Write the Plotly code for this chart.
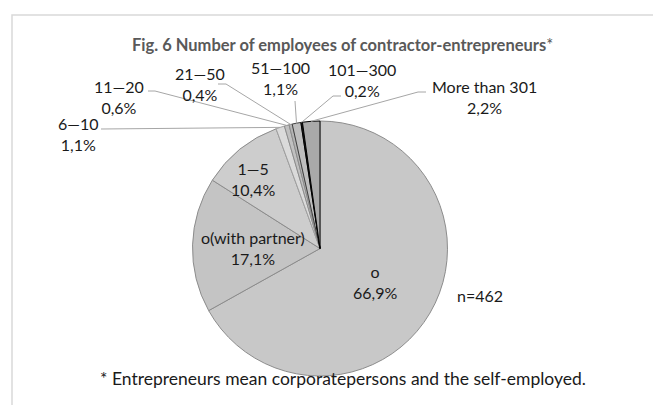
import math
import plotly.graph_objects as go

labels = ["o", "o(with partner)", "1—5", "6—10", "11—20", "21—50",
          "51—100", "101—300", "More than 301"]
values = [66.9, 17.1, 10.4, 1.1, 0.6, 0.4, 1.1, 0.2, 2.2]
n_total = 462

fills = ["#c8c8c8", "#c4c4c4", "#cdcdcd", "#dadada", "#c0c0c0",
         "#b4b4b4", "#bebebe", "#1e1e1e", "#a9a9a9"]
edges = ["#8c8c8c", "#8c8c8c", "#8c8c8c", "#a0a0a0", "#8c8c8c",
         "#8c8c8c", "#404040", "#000000", "#000000"]

W, H = 661, 405
cx, cy, r = 312, 240.5, 127.5

# label centres in pixels (layout only)
label_xy = [(367, 274), (245, 240), (245, 171), (70, 126), (111, 89),
            (192, 76), (272, 70), (354, 72), (476, 89)]
# leader lines: (start, elbow) in pixels, None for inside labels
leaders = [None, None, None,
           ((93, 121), (93, 121)),
           ((140, 83), (147, 83)),
           ((210, 76), (218, 76)),
           ((287, 93), (287, 93)),
           ((333, 88), (325, 88)),
           ((418, 84), (410, 84))]


def paper(x, y):
    return x / W, 1 - y / H


fig = go.Figure()
fig.add_trace(go.Pie(
    labels=labels, values=values, sort=False, direction="clockwise",
    rotation=0, textinfo="none", showlegend=False,
    marker=dict(colors=fills, line=dict(color=edges, width=1)),
    domain=dict(x=[(cx - r) / W, (cx + r) / W],
                y=[1 - (cy + r) / H, 1 - (cy - r) / H]),
))

total = sum(values)
cum = 0
annotations = []
shapes = []
for lab, v, (lx, ly), lead in zip(labels, values, label_xy, leaders):
    ang = math.radians(360 * (cum + v / 2) / total)
    cum += v
    txt = lab + "<br>" + f"{v:.1f}".replace(".", ",") + "%"
    ax, ay = paper(lx, ly)
    annotations.append(dict(x=ax, y=ay, xref="paper", yref="paper", text=txt,
                            showarrow=False, xanchor="center", yanchor="middle",
                            font=dict(family="Lato", size=16, color="#1a1a1a")))
    if lead:
        ex, ey = cx + r * math.sin(ang), cy - r * math.cos(ang)
        (sx, sy), (kx, ky) = lead
        p0, p1, p2 = paper(sx, sy), paper(kx, ky), paper(ex, ey)
        shapes.append(dict(type="path", xref="paper", yref="paper",
                           path=f"M{p0[0]},{p0[1]} L{p1[0]},{p1[1]} L{p2[0]},{p2[1]}",
                           line=dict(color="#a6a6a6", width=1)))

tx, ty = paper(335, 25)
annotations.append(dict(x=tx, y=ty, xref="paper", yref="paper", showarrow=False,
                        text="<b>Fig. 6 Number of employees of contractor-entrepreneurs</b>*",
                        font=dict(family="Lato", size=16.5, color="#595959")))
nx, ny = paper(497, 299)
annotations.append(dict(x=nx, y=ny, xref="paper", yref="paper", showarrow=False,
                        text=f"n={n_total}",
                        font=dict(family="Lato", size=16, color="#1a1a1a")))
fx, fy = paper(335, 383)
annotations.append(dict(x=fx, y=fy, xref="paper", yref="paper", showarrow=False,
                        text="* Entrepreneurs mean corporatepersons and the self-employed.",
                        font=dict(family="Lato", size=17.5, color="#1a1a1a")))

# outer frame (only left and top edges visible)
shapes.append(dict(type="rect", xref="paper", yref="paper",
                   x0=4 / W, y0=-0.1, x1=1.1, y1=1 - 7 / H,
                   line=dict(color="#d9d9d9", width=1.5), layer="below"))

fig.update_layout(width=W, height=H, margin=dict(l=0, r=0, t=0, b=0),
                  paper_bgcolor="white", plot_bgcolor="white",
                  annotations=annotations, shapes=shapes)
fig.write_html("out.html")
